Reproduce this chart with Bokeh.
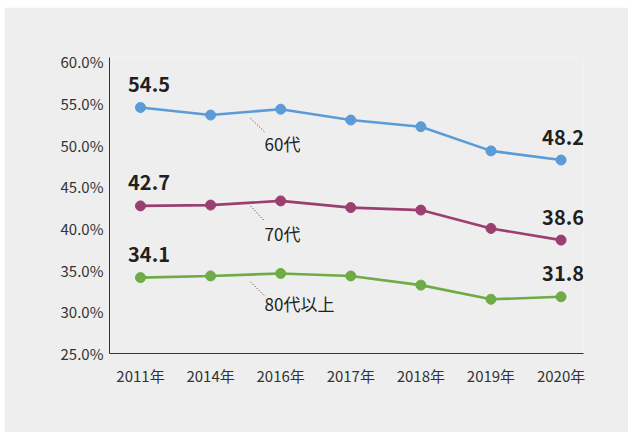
from bokeh.plotting import figure
from bokeh.models import ColumnDataSource, Range1d, FixedTicker
from bokeh.core.properties import value
from bokeh.embed import file_html
from bokeh.resources import INLINE

years = ["2011年", "2014年", "2016年", "2017年", "2018年", "2019年", "2020年"]
s60 = [54.5, 53.6, 54.3, 53.0, 52.2, 49.3, 48.2]
s70 = [42.7, 42.8, 43.3, 42.5, 42.2, 40.0, 38.6]
s80 = [34.1, 34.3, 34.6, 34.3, 33.2, 31.5, 31.8]
series_names = ["60代", "70代", "80代以上"]
colors = ["#5b9bd8", "#9b3f70", "#6fab46"]
y_ticks = [25, 30, 35, 40, 45, 50, 55, 60]
y_tick_labels = ["25.0%", "30.0%", "35.0%", "40.0%", "45.0%", "50.0%", "55.0%", "60.0%"]

# series-name annotation anchors (data coords)
name_x = [1.77, 1.77, 1.77]
name_y = [50.2, 39.4, 31.0]
lead_x0 = [1.57, 1.57, 1.57]
lead_y0 = [53.2, 42.7, 33.6]
lead_x1 = [1.77, 1.77, 1.77]
lead_y1 = [51.6, 40.9, 31.9]

FONT = "Noto Sans CJK JP"
TXT = "#333333"

xs = list(range(len(years)))

p = figure(width=624, height=425, output_backend="svg", toolbar_location=None,
           x_range=Range1d(-0.442, 6.32), y_range=Range1d(25, 60.5),
           min_border_left=105, min_border_right=45, min_border_top=50, min_border_bottom=79,
           margin=(7, 2, 3, 4))
p.border_fill_color = "#eeeeee"
p.background_fill_color = "#eeeeee"
p.outline_line_color = None
p.xgrid.visible = False
p.ygrid.visible = False

for ax in (p.xaxis[0], p.yaxis[0]):
    ax.axis_line_color = "#333333"
    ax.axis_line_width = 1
    ax.major_tick_line_color = None
    ax.minor_tick_line_color = None
    ax.major_tick_out = 0
    ax.major_tick_in = 0
    ax.major_label_text_font = FONT
    ax.major_label_text_font_size = "15px"
    ax.major_label_text_color = TXT

p.xaxis.ticker = FixedTicker(ticks=xs)
p.xaxis.major_label_overrides = {i: y for i, y in enumerate(years)}
p.xaxis.major_label_standoff = 11
p.yaxis.ticker = FixedTicker(ticks=y_ticks)
p.yaxis.major_label_overrides = {t: l for t, l in zip(y_ticks, y_tick_labels)}
p.yaxis.major_label_standoff = 6

for vals, c in zip([s60, s70, s80], colors):
    src = ColumnDataSource(dict(x=xs, y=vals))
    p.line("x", "y", source=src, line_color=c, line_width=2.6)
    p.scatter("x", "y", source=src, size=10, fill_color=c, line_color=c)

# value labels at first and last points
lab = dict(x=[], y=[], t=[], xo=[])
for vals in [s60, s70, s80]:
    lab["x"] += [xs[0], xs[-1]]
    lab["y"] += [vals[0], vals[-1]]
    lab["t"] += [f"{vals[0]:.1f}", f"{vals[-1]:.1f}"]
    lab["xo"] += [8.5, 2]
p.text("x", "y", text="t", source=ColumnDataSource(lab), x_offset="xo", y_offset=-23,
       text_align="center", text_baseline="middle", text_font=value(FONT),
       text_font_style="bold", text_font_size="20px", text_color="#231f20")

# series names with dotted leaders
p.segment(x0=lead_x0, y0=lead_y0, x1=lead_x1, y1=lead_y1, line_color="#333333",
          line_width=1, line_dash="1 2")
p.text(x=name_x, y=name_y, text=series_names, text_align="left", text_baseline="middle",
       text_font=value(FONT), text_font_size="17px", text_color="#231f20")

open("out.html", "w").write(file_html(p, INLINE))
